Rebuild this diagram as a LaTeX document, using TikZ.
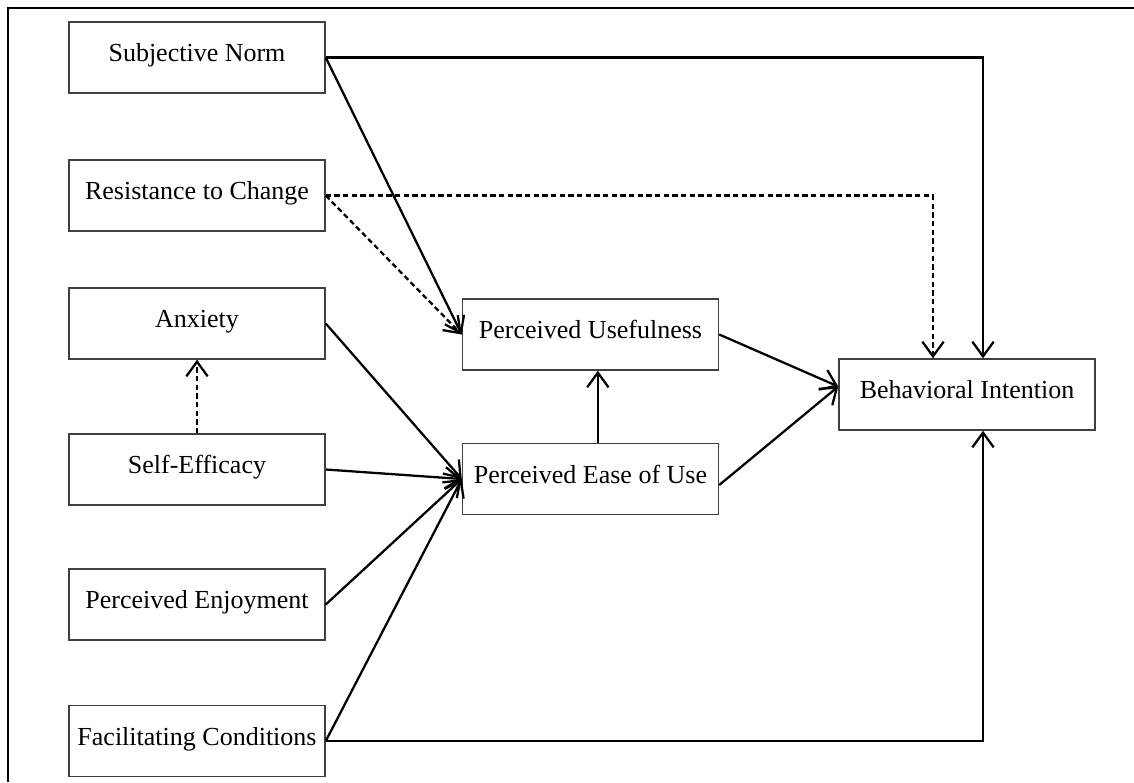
\documentclass[tikz,border=0pt]{standalone}
\usepackage{fontspec}
\setmainfont{Liberation Serif}
\usetikzlibrary{arrows.meta}

\begin{document}
\begin{tikzpicture}[x=0.75pt,y=0.75pt,yscale=-1,xscale=1,
	construct/.style={draw=black!75,line width=1.1pt,minimum width=192pt,minimum height=53.25pt,inner sep=0pt,text height=14pt,text depth=8pt,font=\fontsize{19.5}{23}\selectfont},
	link/.style={-{Straight Barb[length=11pt,width=16pt]},line width=1.7pt},
	weak/.style={link,dash pattern=on 4pt off 2.5pt}]
	\useasboundingbox (0,0) rectangle (1134,782);
	\draw [line width=1.3pt] (8,782) -- (8,8) -- (1134,8);

	\draw (197,57.5) node [construct] (sn) {Subjective Norm};
	\draw (197,195.5) node [construct] (rc) {Resistance to Change};
	\draw (197,323.5) node [construct] (anx) {Anxiety};
	\draw (197,469.5) node [construct] (se) {Self-Efficacy};
	\draw (197,604.5) node [construct] (pe) {Perceived Enjoyment};
	\draw (197,741) node [construct] (fc) {Facilitating Conditions};
	\draw (590.5,334.5) node [construct] (pu) {Perceived Usefulness};
	\draw (590.5,479) node [construct] (peou) {Perceived Ease of Use};
	\draw (967,394.5) node [construct] (bi) {Behavioral Intention};

	\draw [link] (sn.east) -| ([xshift=12pt]bi.north);
	\draw [weak] (rc.east) -| ([xshift=-25.5pt]bi.north);
	\draw [link] (fc.east) -| ([xshift=12pt]bi.south);
	\draw [link] (sn.east) -- (pu.west);
	\draw [weak] (rc.east) -- (pu.west);
	\draw [weak] (se.north) -- (anx.south);
	\draw [link] (anx.east) -- (peou.west);
	\draw [link] (se.east) -- (peou.west);
	\draw [link] (pe.east) -- (peou.west);
	\draw [link] (fc.east) -- (peou.west);
	\draw [link] ([xshift=5.5pt]peou.north) -- ([xshift=5.5pt]pu.south);
	\draw [link] (pu.east) -- ([yshift=-6pt]bi.west);
	\draw [link] ([yshift=4.5pt]peou.east) -- ([yshift=-6pt]bi.west);
\end{tikzpicture}
\end{document}
